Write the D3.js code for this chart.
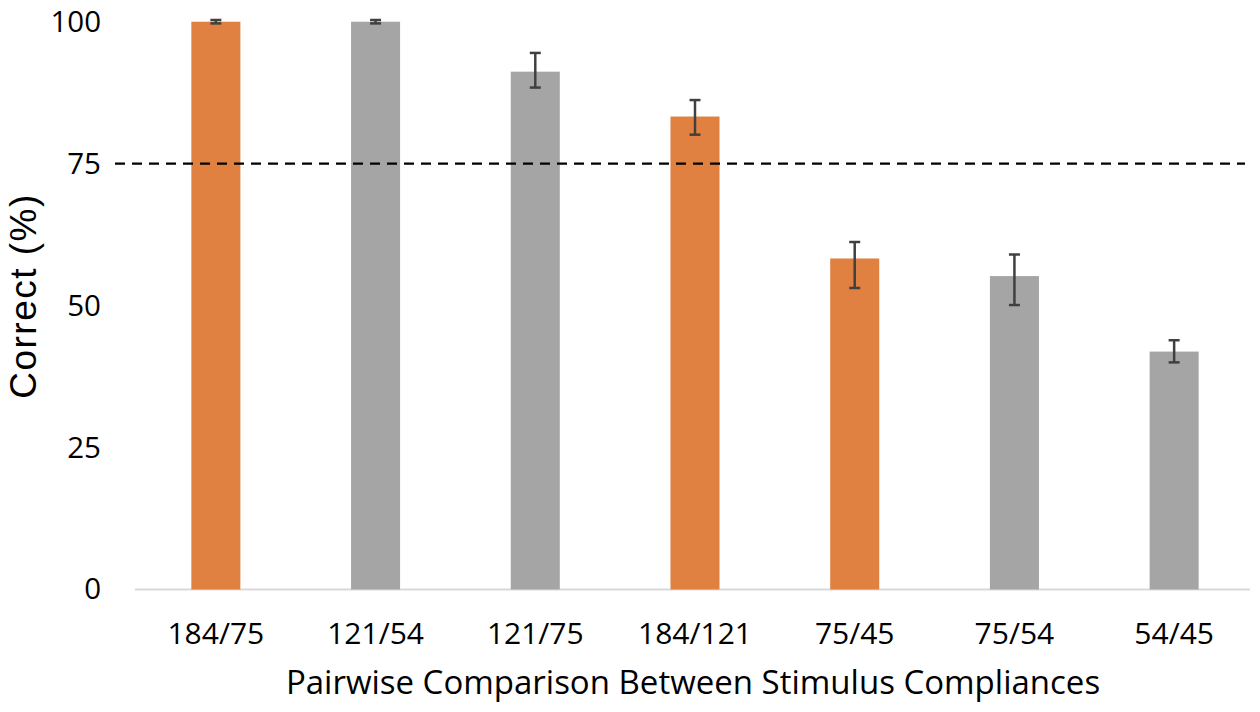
<!DOCTYPE html>
<html>
<head>
<meta charset="utf-8">
<script src="https://cdn.jsdelivr.net/npm/d3@7"></script>
<style>
  body { margin: 0; background: #fff; }
  svg { display: block; }
</style>
</head>
<body>
<div id="grafico"></div>
<script>
// values
var pairs = ["184/75", "121/54", "121/75", "184/121", "75/45", "75/54", "54/45"];
var correct = [100, 100, 91.2, 83.3, 58.3, 55.2, 41.9];
var errUp = [0.3, 0.3, 3.3, 2.9, 2.9, 3.8, 2.0];
var errDown = [0.3, 0.3, 2.8, 3.2, 5.2, 5.1, 1.9];
var highlighted = ["184/75", "184/121", "75/45"];
var yTicks = [0, 25, 50, 75, 100];
var chance = 75;

var width = 1260,
    height = 712;

var svg = d3.select("#grafico").append("svg")
    .attr("width", width)
    .attr("height", height);

var x = d3.scaleBand()
    .domain(pairs)
    .range([136, 1254])
    .paddingInner(0.693)
    .paddingOuter(0.3465);

var y = d3.scaleLinear()
    .domain([0, 100])
    .range([589.5, 21.7]);

var data = pairs.map(function(p, i) {
    return { pair: p, value: correct[i], up: errUp[i], down: errDown[i] };
});

// x axis line
svg.append("line")
    .attr("x1", 135).attr("x2", 1250)
    .attr("y1", y(0)).attr("y2", y(0))
    .attr("stroke", "#d9d9d9")
    .attr("stroke-width", 2);

// y tick labels
var yAxis = d3.axisLeft(y).tickValues(yTicks).tickSize(0).tickPadding(0);
var gy = svg.append("g")
    .attr("transform", "translate(101,0)")
    .call(yAxis);
gy.select(".domain").remove();
gy.selectAll("text")
    .attr("font-family", "'Open Sans', sans-serif")
    .attr("font-size", 29.5)
    .attr("fill", "#000");

// x tick labels
var xAxis = d3.axisBottom(x).tickSize(0).tickPadding(0);
var gx = svg.append("g")
    .attr("transform", "translate(0,623)")
    .call(xAxis);
gx.select(".domain").remove();
gx.selectAll("text")
    .attr("font-family", "'Open Sans', sans-serif")
    .attr("font-size", 30)
    .attr("fill", "#000");

// bars
svg.selectAll(".bar")
    .data(data)
    .enter()
    .append("rect")
    .attr("class", "bar")
    .attr("x", function(d) { return x(d.pair); })
    .attr("width", x.bandwidth())
    .attr("y", function(d) { return y(d.value); })
    .attr("height", function(d) { return y(0) - y(d.value); })
    .attr("fill", function(d) {
        return highlighted.indexOf(d.pair) >= 0 ? "#e08142" : "#a5a5a5";
    });

// chance line
svg.append("line")
    .attr("x1", 115).attr("x2", 1245)
    .attr("y1", y(chance)).attr("y2", y(chance))
    .attr("stroke", "#000")
    .attr("stroke-width", 2.2)
    .attr("stroke-dasharray", "10,7");

// error bars
var eb = svg.selectAll(".err")
    .data(data)
    .enter()
    .append("g")
    .attr("class", "err")
    .attr("stroke", "#404040")
    .attr("stroke-width", 2.5);

function cx(d) { return x(d.pair) + x.bandwidth() / 2; }

eb.append("line")
    .attr("x1", cx).attr("x2", cx)
    .attr("y1", function(d) { return y(d.value + d.up); })
    .attr("y2", function(d) { return y(d.value - d.down); });
eb.append("line")
    .attr("x1", function(d) { return cx(d) - 5.5; })
    .attr("x2", function(d) { return cx(d) + 5.5; })
    .attr("y1", function(d) { return y(d.value + d.up); })
    .attr("y2", function(d) { return y(d.value + d.up); });
eb.append("line")
    .attr("x1", function(d) { return cx(d) - 5.5; })
    .attr("x2", function(d) { return cx(d) + 5.5; })
    .attr("y1", function(d) { return y(d.value - d.down); })
    .attr("y2", function(d) { return y(d.value - d.down); });

// axis titles
svg.append("text")
    .attr("transform", "translate(36,296) rotate(-90)")
    .attr("text-anchor", "middle")
    .attr("font-family", "'Liberation Sans', Arial, sans-serif")
    .attr("font-size", 37)
    .attr("letter-spacing", 1.5)
    .attr("fill", "#000")
    .text("Correct (%)");

svg.append("text")
    .attr("x", 693)
    .attr("y", 694)
    .attr("text-anchor", "middle")
    .attr("font-family", "'Open Sans', sans-serif")
    .attr("font-size", 33)
    .attr("fill", "#000")
    .text("Pairwise Comparison Between Stimulus Compliances");
</script>
</body>
</html>
